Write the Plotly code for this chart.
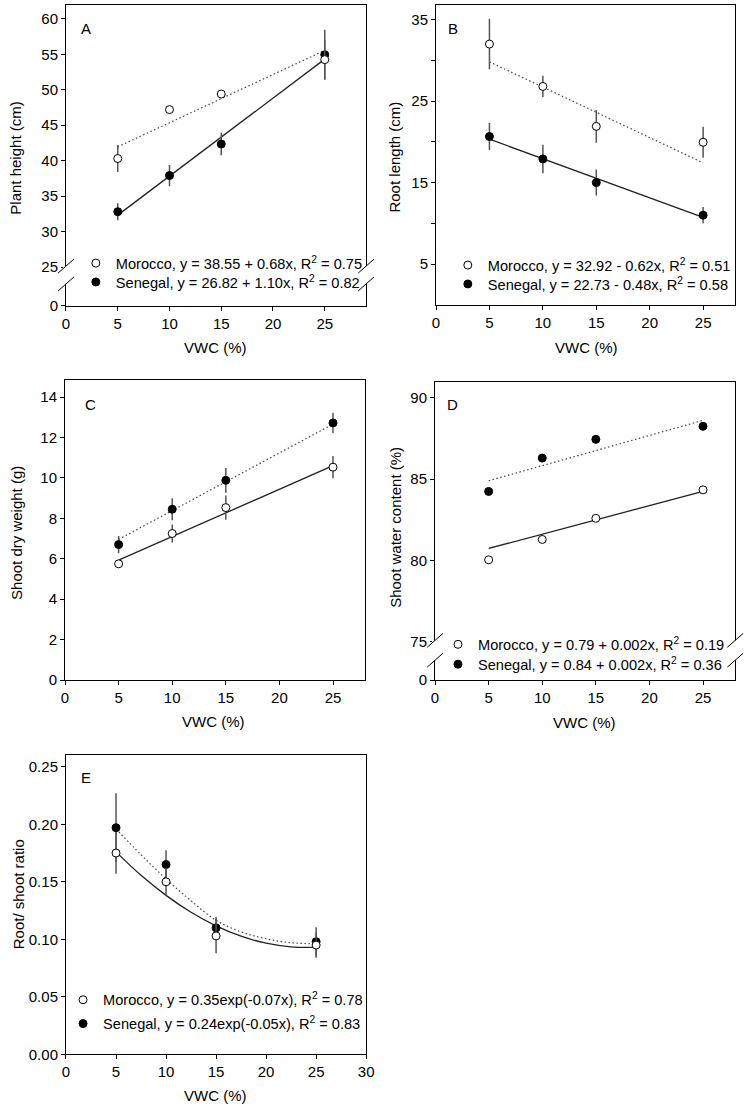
import plotly.graph_objects as go

W, H = 755, 1115

# ---------------- data ----------------
vwc = [5, 10, 15, 25]

# A: plant height (cm)
height_mor = [40.3, 47.2, 49.4, 54.25]
height_mor_err = [1.9, 0.5, 0.5, 2.8]
height_sen = [32.8, 37.9, 42.35, 54.95]
height_sen_err = [1.2, 1.5, 1.6, 3.5]
height_fit_mor = [38.55, 0.68]   # intercept, slope
height_fit_sen = [26.82, 1.10]

# B: root length (cm)
root_mor = [32.0, 26.8, 21.9, 19.95]
root_mor_err = [3.1, 1.3, 2.0, 1.9]
root_sen = [20.65, 17.9, 15.0, 11.0]
root_sen_err = [1.65, 1.75, 1.6, 1.0]
root_fit_mor = [32.92, -0.62]
root_fit_sen = [22.73, -0.48]

# C: shoot dry weight (g)
sdw_mor = [5.75, 7.25, 8.53, 10.53]
sdw_mor_err = [0.15, 0.45, 0.6, 0.55]
sdw_sen = [6.7, 8.45, 9.88, 12.72]
sdw_sen_err = [0.43, 0.54, 0.61, 0.5]
sdw_fit_mor = [4.76, 0.234]
sdw_fit_sen = [5.535, 0.285]

# D: shoot water content (%)
swc_mor = [80.05, 81.3, 82.6, 84.35]
swc_sen = [84.25, 86.3, 87.45, 88.25]
swc_fit_mor = [79.87, 0.1755]
swc_fit_sen = [83.98, 0.1855]

# E: root/shoot ratio
rs_mor = [0.175, 0.150, 0.103, 0.095]
rs_mor_err = [0.018, 0.012, 0.015, 0.011]
rs_sen = [0.197, 0.165, 0.110, 0.098]
rs_sen_err = [0.030, 0.0125, 0.0095, 0.0125]
rs_curve_x = [5, 7.5, 10, 12.5, 15, 17.5, 20, 22.5, 25]
rs_curve_mor = [0.176, 0.1556, 0.1382, 0.1235, 0.1117, 0.1027, 0.0966, 0.0934, 0.093]
rs_curve_sen = [0.196, 0.1735, 0.1525, 0.1335, 0.1165, 0.1065, 0.1005, 0.097, 0.0962]

leg_A = ["Morocco, y = 38.55 + 0.68x, R<sup>2</sup> = 0.75",
         "Senegal, y = 26.82 + 1.10x, R<sup>2</sup> = 0.82"]
leg_B = ["Morocco, y = 32.92 - 0.62x, R<sup>2</sup> = 0.51",
         "Senegal, y = 22.73 - 0.48x, R<sup>2</sup> = 0.58"]
leg_D = ["Morocco, y = 0.79 + 0.002x, R<sup>2</sup> = 0.19",
         "Senegal, y = 0.84 + 0.002x, R<sup>2</sup> = 0.36"]
leg_E = ["Morocco, y = 0.35exp(-0.07x), R<sup>2</sup> = 0.78",
         "Senegal, y = 0.24exp(-0.05x), R<sup>2</sup> = 0.83"]

# ---------------- helpers ----------------
def fx(p):
    return p / W

def fy(p):
    return 1 - p / H

FONT = "Liberation Sans, Arial, sans-serif"
FS = 15
LFS = 14.6
DOT = "1.5px,2.5px"
fig = go.Figure()

# pixel boxes (left, right, top, bottom)
boxes = {
    1: (63, 368, 5, 308),
    2: (439, 743, 5, 307),
    3: (62, 367, 383, 685),
    4: (438, 743, 385, 685),
    5: (63, 368, 760, 1062),
}

def ax_name(i, kind):
    return kind if i == 1 else f"{kind}{i}"

def line_fit(i, coef, dotted):
    xs = [vwc[0], vwc[-1]]
    ys = [coef[0] + coef[1] * x for x in xs]
    ln = dict(color="#444", width=1.2, dash=DOT) if dotted else dict(color="#222", width=1.3)
    fig.add_trace(go.Scatter(x=xs, y=ys, mode="lines", line=ln,
                             showlegend=False, hoverinfo="skip",
                             xaxis=ax_name(i, "x"), yaxis=ax_name(i, "y")))

def points(i, ys, err, filled, name, legend):
    mk = dict(size=8, color="black" if filled else "white",
              line=dict(color="black", width=1))
    kw = {}
    if err is not None:
        kw["error_y"] = dict(type="data", array=err, color="#555",
                             thickness=1.5, width=0)
    fig.add_trace(go.Scatter(x=vwc, y=ys, mode="markers", marker=mk, name=name,
                             showlegend=legend is not None,
                             legend=legend if legend else "legend",
                             xaxis=ax_name(i, "x"), yaxis=ax_name(i, "y"), **kw))

# A
line_fit(1, height_fit_mor, True)
line_fit(1, height_fit_sen, False)
points(1, height_sen, height_sen_err, True, leg_A[1], "legend2")
points(1, height_mor, height_mor_err, False, leg_A[0], "legend")
# B
line_fit(2, root_fit_mor, True)
line_fit(2, root_fit_sen, False)
points(2, root_sen, root_sen_err, True, leg_B[1], "legend4")
points(2, root_mor, root_mor_err, False, leg_B[0], "legend3")
# C
line_fit(3, sdw_fit_sen, True)
line_fit(3, sdw_fit_mor, False)
points(3, sdw_sen, sdw_sen_err, True, "Senegal", None)
points(3, sdw_mor, sdw_mor_err, False, "Morocco", None)
# D
line_fit(4, swc_fit_sen, True)
line_fit(4, swc_fit_mor, False)
points(4, swc_sen, None, True, leg_D[1], "legend6")
points(4, swc_mor, None, False, leg_D[0], "legend5")
# E
fig.add_trace(go.Scatter(x=rs_curve_x, y=rs_curve_sen, mode="lines",
                         line=dict(color="#444", width=1.2, dash=DOT, shape="spline"),
                         showlegend=False, hoverinfo="skip", xaxis="x5", yaxis="y5"))
fig.add_trace(go.Scatter(x=rs_curve_x, y=rs_curve_mor, mode="lines",
                         line=dict(color="#222", width=1.3, shape="spline"),
                         showlegend=False, hoverinfo="skip", xaxis="x5", yaxis="y5"))
points(5, rs_sen, rs_sen_err, True, leg_E[1], "legend8")
points(5, rs_mor, rs_mor_err, False, leg_E[0], "legend7")

# ---------------- axes ----------------
base = dict(showline=True, linecolor="black", linewidth=1, mirror=True,
            ticks="outside", ticklen=4, tickcolor="black", tickwidth=1,
            showgrid=False, zeroline=False,
            tickfont=dict(family=FONT, size=FS, color="black"))

x_ranges = {1: [0, 29], 2: [0, 28], 3: [0, 28], 4: [0, 28], 5: [0, 30]}
x_ticks = {1: [0, 5, 10, 15, 20, 25], 2: [0, 5, 10, 15, 20, 25],
           3: [0, 5, 10, 15, 20, 25], 4: [0, 5, 10, 15, 20, 25],
           5: [0, 5, 10, 15, 20, 25, 30]}

# broken-axis bottoms: value placed at the frame bottom, labelled "0"
A_bottom = 19.53
D_bottom = 72.66
y_cfg = {
    1: dict(range=[A_bottom, 61.96], tickvals=[A_bottom, 25, 30, 35, 40, 45, 50, 55, 60],
            ticktext=["0", "25", "30", "35", "40", "45", "50", "55", "60"]),
    2: dict(range=[0, 36.8], tickvals=[5, 15, 25, 35],
            minor=dict(tickvals=[10, 20, 30], ticks="outside", ticklen=4,
                       tickcolor="black", tickwidth=1, showgrid=False)),
    3: dict(range=[0, 14.83], tickvals=[0, 2, 4, 6, 8, 10, 12, 14]),
    4: dict(range=[D_bottom, 90.96], tickvals=[D_bottom, 75, 80, 85, 90],
            ticktext=["0", "75", "80", "85", "90"]),
    5: dict(range=[0, 0.2606], tickvals=[0, 0.05, 0.10, 0.15, 0.20, 0.25],
            tickformat=".2f"),
}

lay = {}
for i, (l, r, t, b) in boxes.items():
    xa = dict(base, domain=[fx(l), fx(r)], range=x_ranges[i], tickvals=x_ticks[i],
              anchor=ax_name(i, "y"))
    ya = dict(base, domain=[fy(b), fy(t)], anchor=ax_name(i, "x"), **y_cfg[i])
    lay["xaxis" if i == 1 else f"xaxis{i}"] = xa
    lay["yaxis" if i == 1 else f"yaxis{i}"] = ya

# ---------------- legends (one entry each) ----------------
def leg(mx, my):
    return dict(x=fx(mx - 21), y=fy(my), xanchor="left", yanchor="middle",
                bgcolor="rgba(0,0,0,0)", borderwidth=0, itemwidth=30,
                font=dict(family=FONT, size=LFS, color="black"),
                itemclick=False, itemdoubleclick=False)

lay["legend"] = leg(94, 265)
lay["legend2"] = leg(94, 284)
lay["legend3"] = leg(472, 267)
lay["legend4"] = leg(472, 286)
lay["legend5"] = leg(462, 649)
lay["legend6"] = leg(462, 669)
lay["legend7"] = leg(81, 1007)
lay["legend8"] = leg(81, 1031)

# ---------------- annotations ----------------
ann = []
def text(x, y, s, angle=0, size=FS):
    ann.append(dict(x=fx(x), y=fy(y), xref="paper", yref="paper", text=s,
                    showarrow=False, textangle=angle, xanchor="center", yanchor="middle",
                    font=dict(family=FONT, size=size, color="black")))

for (x, y, s) in [(83, 29, "A"), (456, 29, "B"), (88, 407, "C"), (456, 407, "D"), (83, 783, "E")]:
    text(x, y, s)
for (x, y) in [(215, 350), (592, 350), (213, 727), (590, 728), (215, 1103)]:
    text(x, y, "VWC (%)")
text(12, 159, "Plant height (cm)", -90)
text(397, 158, "Root length (cm)", -90)
text(12, 537, "Shoot dry weight (g)", -90)
text(398, 531, "Shoot water content (%)", -90)
text(15, 901, "Root/ shoot ratio", -90)

# ---------------- axis breaks ----------------
shapes = []
def brk(xs_, y_top, y_bot):
    for x in xs_:
        shapes.append(dict(type="rect", xref="paper", yref="paper",
                           x0=fx(x - 3), x1=fx(x + 3), y0=fy(y_bot), y1=fy(y_top),
                           fillcolor="white", line=dict(width=0), layer="above"))
        for yc in (y_top, y_bot):
            shapes.append(dict(type="line", xref="paper", yref="paper",
                               x0=fx(x - 8), y0=fy(yc + 7), x1=fx(x + 8), y1=fy(yc - 7),
                               line=dict(color="black", width=1), layer="above"))

brk([63, 368], 268, 286)
brk([438, 743], 645, 665)

lay.update(dict(width=W, height=H, margin=dict(l=0, r=0, t=0, b=0),
                paper_bgcolor="white", plot_bgcolor="white",
                font=dict(family=FONT, size=FS, color="black"),
                annotations=ann, shapes=shapes, showlegend=True))
fig.update_layout(**lay)
fig.write_html("out.html", config={"displayModeBar": False},
               post_script="document.body.style.margin='0px';document.body.style.overflow='hidden';")
